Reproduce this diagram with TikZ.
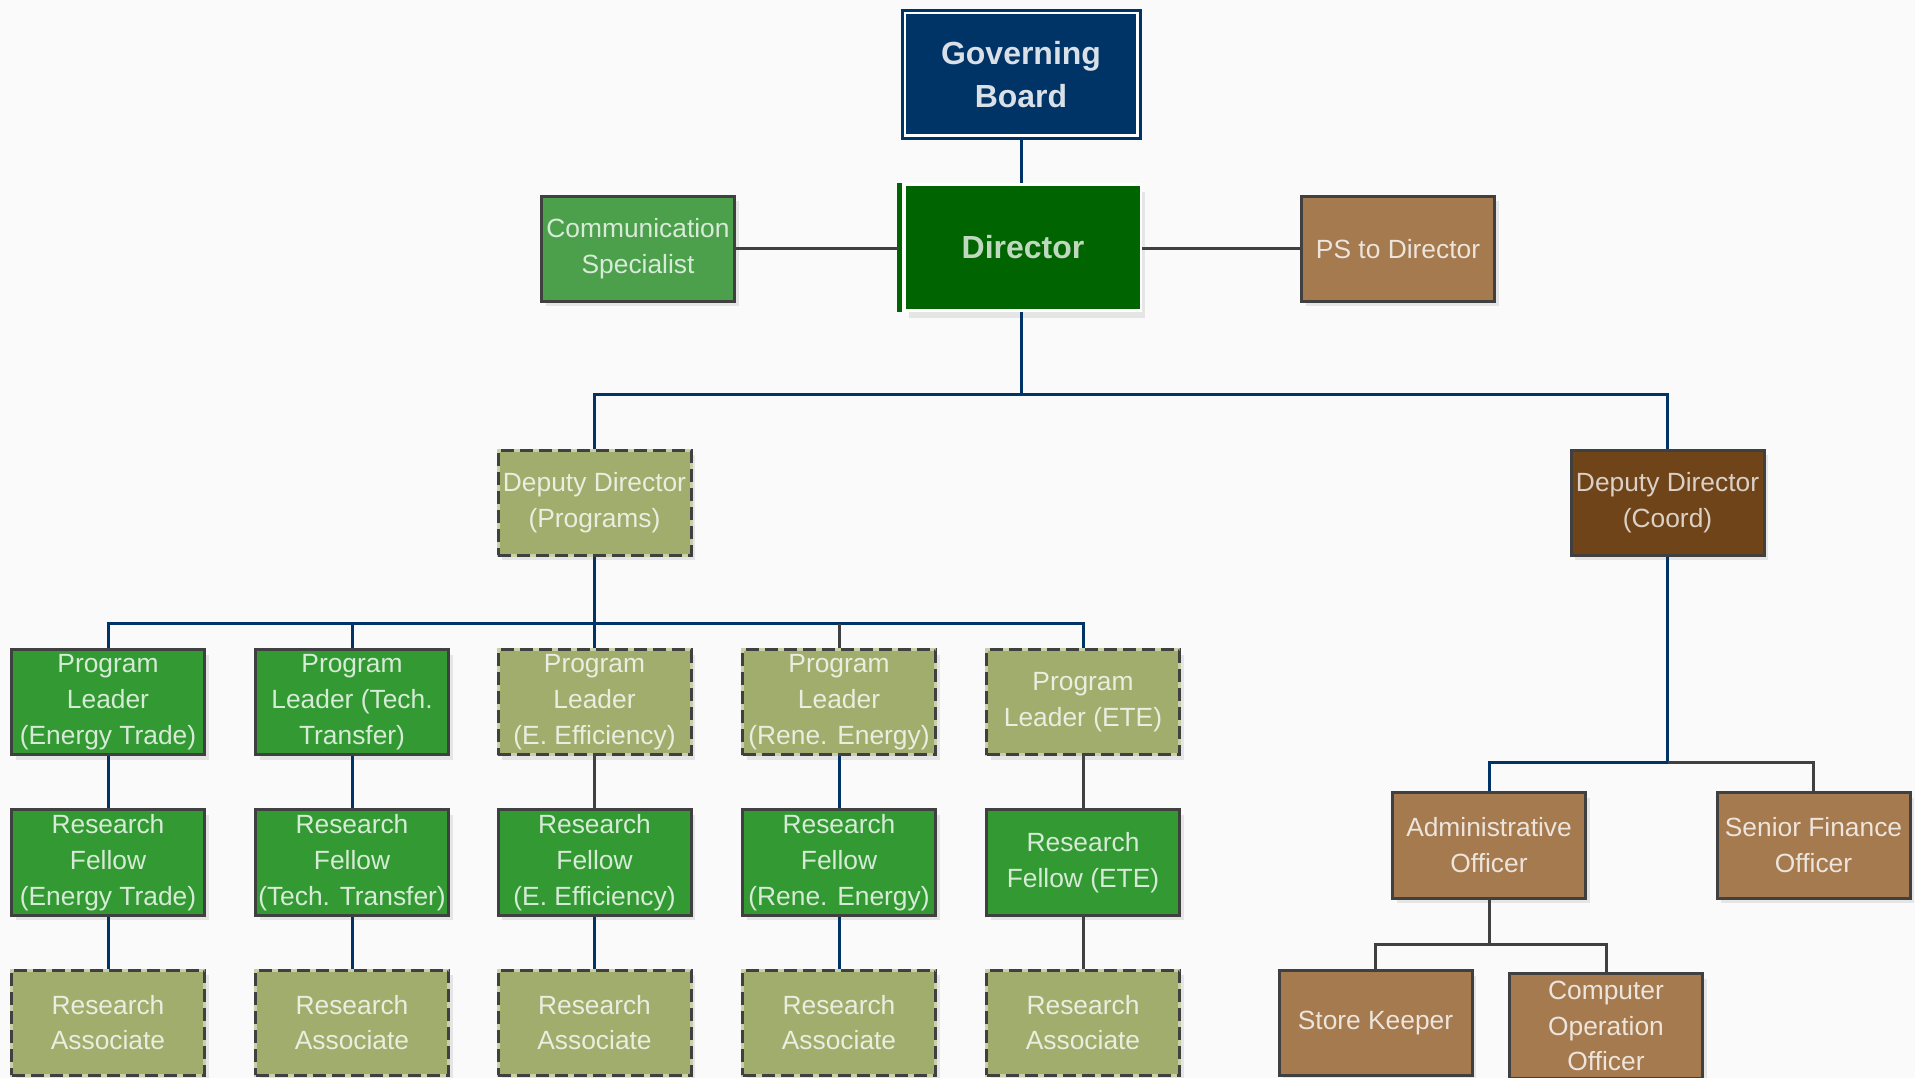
\documentclass[tikz,border=0pt]{standalone}
\usepackage{fontspec}
\setmainfont{Liberation Sans}
\usetikzlibrary{positioning,shadows}

\definecolor{bgcol}{HTML}{FAFAFA}
\definecolor{gbnavy}{HTML}{003366}
\definecolor{dirgreen}{HTML}{006400}
\definecolor{commgreen}{HTML}{4CA04C}
\definecolor{plgreen}{HTML}{339933}
\definecolor{olive}{HTML}{A0AD6C}
\definecolor{tan}{HTML}{A47A4E}
\definecolor{coordbrown}{HTML}{704419}
\definecolor{edgegray}{HTML}{404040}
\definecolor{dashlight}{HTML}{C8D0A8}
\definecolor{linkblue}{HTML}{003366}

\begin{document}
\begin{tikzpicture}[
	node distance=0.52cm,
	box/.style={draw=edgegray, line width=0.03cm, minimum width=1.93cm,
		minimum height=1.05cm, inner sep=0pt, align=center,
		font=\fontsize{7.5}{10.2}\selectfont,
		drop shadow={shadow xshift=0.04cm, shadow yshift=-0.05cm, fill=black!10, opacity=1}},
	greenbox/.style={box, fill=plgreen, text=white!80!plgreen},
	olivebox/.style={box, fill=olive, text=white!78!olive, draw=dashlight,
		postaction={draw=edgegray, line width=0.03cm, dash pattern=on 0.13cm off 0.06cm}},
	tanbox/.style={box, fill=tan, text=white!80!tan},
	blueline/.style={draw=linkblue, line width=0.03cm},
	grayline/.style={draw=edgegray, line width=0.03cm}
	]
\useasboundingbox (0,0) rectangle (19.15,-10.78);
\fill[bgcol] (0,0) rectangle (19.15,-10.78);

\node[draw=gbnavy, double=white, line width=0.03cm, double distance=0.025cm,
	fill=gbnavy, text=white!85!gbnavy, minimum width=2.325cm, minimum height=1.225cm,
	inner sep=0pt, align=center, font=\fontsize{9.1}{12.2}\selectfont\bfseries]
	(gb) at (10.21,-0.745) {Governing\\Board};
\node[draw=white, line width=0.025cm, fill=dirgreen, text=white!75!dirgreen,
	minimum width=2.36cm, minimum height=1.26cm, inner sep=0pt,
	font=\fontsize{9.1}{12.2}\selectfont\bfseries,
	drop shadow={shadow xshift=0.04cm, shadow yshift=-0.08cm, fill=black!10, opacity=1}]
	(dir) at (10.23,-2.475) {Director};
\draw[dirgreen, line width=0.05cm] ([xshift=-0.04cm]dir.north west) -- ([xshift=-0.04cm]dir.south west);

\node[box, fill=commgreen, text=white!78!commgreen] (comm) at (6.38,-2.49) {Communication\\Specialist};
\node[tanbox] (ps) at (13.98,-2.49) {PS to Director};

\node[olivebox] (ddp) at (5.945,-5.03) {Deputy Director\\(Programs)};
\node[box, fill=coordbrown, text=white!75!coordbrown] (ddc) at (16.675,-5.03) {Deputy Director\\(Coord)};

\node[greenbox] (pl1) at (1.08,-7.025) {Program\\Leader\\(Energy Trade)};
\node[greenbox] (pl2) at (3.52,-7.025) {Program\\Leader (Tech.\\Transfer)};
\node[olivebox] (pl3) at (5.945,-7.025) {Program\\Leader\\(E. Efficiency)};
\node[olivebox] (pl4) at (8.39,-7.025) {Program\\Leader\\(Rene. Energy)};
\node[olivebox] (pl5) at (10.83,-7.025) {Program\\Leader (ETE)};

\node[greenbox, below=of pl1] (rf1) {Research\\Fellow\\(Energy Trade)};
\node[greenbox, below=of pl2] (rf2) {Research\\Fellow\\(Tech. Transfer)};
\node[greenbox, below=of pl3] (rf3) {Research\\Fellow\\(E. Efficiency)};
\node[greenbox, below=of pl4] (rf4) {Research\\Fellow\\(Rene. Energy)};
\node[greenbox, below=of pl5] (rf5) {Research\\Fellow (ETE)};

\node[olivebox, below=of rf1] (ra1) {Research\\Associate};
\node[olivebox, below=of rf2] (ra2) {Research\\Associate};
\node[olivebox, below=of rf3] (ra3) {Research\\Associate};
\node[olivebox, below=of rf4] (ra4) {Research\\Associate};
\node[olivebox, below=of rf5] (ra5) {Research\\Associate};

\node[tanbox] (ao) at (14.89,-8.455) {Administrative\\Officer};
\node[tanbox] (sfo) at (18.135,-8.455) {Senior Finance\\Officer};
\node[tanbox] (sk) at (13.755,-10.23) {Store Keeper};
\node[tanbox] (coo) at (16.06,-10.26) {Computer\\Operation\\Officer};

\coordinate (topbus) at (10.21,-3.95);
\coordinate (pbus) at (5.945,-6.24);
\coordinate (cbus) at (16.675,-7.63);
\coordinate (abus) at (14.89,-9.44);

\draw[blueline] (gb) -- (gb |- dir.north);
\draw[grayline] (comm) -- ([xshift=-0.05cm]comm -| dir.west);
\draw[grayline] (ps -| dir.east) -- (ps);
\draw[blueline] (dir.south -| topbus) -- (topbus);
\draw[blueline] (ddp) |- (topbus) -| (ddc);

\draw[blueline] (ddp) -- (pbus);
\draw[blueline] (pl1) |- (pbus) -| (pl5);
\draw[blueline] (pl2) -- (pl2 |- pbus);
\draw[blueline] (pl3) -- (pbus);
\draw[grayline] (pl4) -- (pl4 |- pbus);

\draw[blueline] (pl1) -- (rf1);
\draw[blueline] (pl2) -- (rf2);
\draw[grayline] (pl3) -- (rf3);
\draw[blueline] (pl4) -- (rf4);
\draw[grayline] (pl5) -- (rf5);

\draw[blueline] (rf1) -- (ra1);
\draw[blueline] (rf2) -- (ra2);
\draw[blueline] (rf3) -- (ra3);
\draw[blueline] (rf4) -- (ra4);
\draw[grayline] (rf5) -- (ra5);

\draw[blueline] (ddc) -- (cbus);
\draw[blueline] (cbus) -| (ao);
\draw[grayline] (cbus) -| (sfo);
\draw[grayline] (ao) -- (abus);
\draw[grayline] (sk) |- (abus) -| (coo);
\end{tikzpicture}
\end{document}
